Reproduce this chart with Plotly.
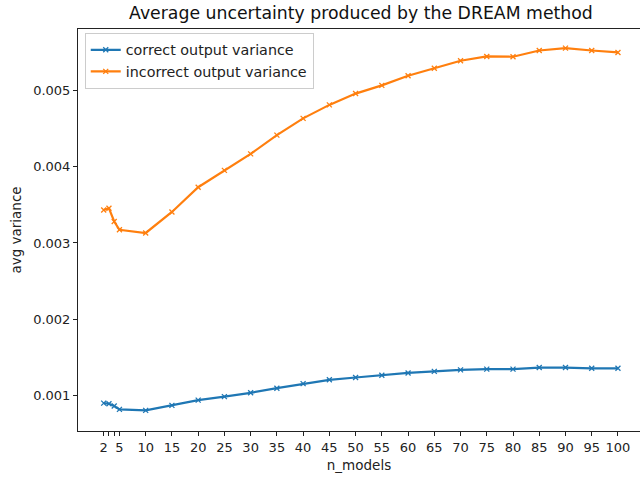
import plotly.graph_objects as go

n_models = [2, 3, 4, 5, 10, 15, 20, 25, 30, 35, 40, 45, 50, 55, 60, 65, 70, 75, 80, 85, 90, 95, 100]
correct_var = [0.000905, 0.000897, 0.000867, 0.000823, 0.00081, 0.000875, 0.000944, 0.00099, 0.00104,
               0.0011, 0.00116, 0.00121, 0.00124, 0.00127, 0.0013, 0.00132, 0.00134, 0.00135,
               0.00135, 0.00137, 0.00137, 0.00136, 0.00136]
incorrect_var = [0.003432, 0.003454, 0.003281, 0.003173, 0.003131, 0.003406, 0.00373, 0.00395, 0.004166,
                 0.004411, 0.004631, 0.004807, 0.004955, 0.005062, 0.005188, 0.005286, 0.005385,
                 0.005441, 0.005437, 0.005519, 0.00555, 0.005519, 0.005493]
xtick_vals = [2, 3, 4, 5, 10, 15, 20, 25, 30, 35, 40, 45, 50, 55, 60, 65, 70, 75, 80, 85, 90, 95, 100]
xtick_text = ["2", "", "", "5", "10", "15", "20", "25", "30", "35", "40", "45", "50", "55", "60",
              "65", "70", "75", "80", "85", "90", "95", "100"]
ytick_vals = [0.001, 0.002, 0.003, 0.004, 0.005]

font = "DejaVu Sans"
fig = go.Figure()
fig.add_trace(go.Scatter(x=n_models, y=correct_var, mode="lines+markers", name="correct output variance",
                         line=dict(color="#1f77b4", width=2.2),
                         marker=dict(symbol="x-thin", size=5, line=dict(color="#1f77b4", width=1.3))))
fig.add_trace(go.Scatter(x=n_models, y=incorrect_var, mode="lines+markers", name="incorrect output variance",
                         line=dict(color="#ff7f0e", width=2.2),
                         marker=dict(symbol="x-thin", size=5, line=dict(color="#ff7f0e", width=1.3))))

fig.update_layout(
    width=640, height=477,
    margin=dict(l=78, r=0, t=29, b=46),
    paper_bgcolor="white", plot_bgcolor="white",
    font=dict(family=font, size=13, color="#222"),
    title=dict(text="Average uncertainty produced by the DREAM method", x=0.564, xanchor="center",
               y=0.973, yanchor="middle", font=dict(size=17.3, color="#111")),
    showlegend=True,
    legend=dict(x=0.012, y=0.99, xanchor="left", yanchor="top", bordercolor="#ccc", borderwidth=1,
                bgcolor="rgba(255,255,255,0.8)", font=dict(size=14.3), tracegroupgap=0,
                itemwidth=30),
)
fig.update_xaxes(range=[-2.9, 104.2], tickmode="array", tickvals=xtick_vals, ticktext=xtick_text,
                 ticks="outside", ticklen=4, tickcolor="#222", showline=True, linecolor="#222",
                 linewidth=1, mirror=True, showgrid=False, zeroline=False, automargin=False,
                 tickfont=dict(size=13),
                 title=dict(text="n_models", font=dict(size=13.5), standoff=6))
fig.update_yaxes(range=[0.00054, 0.0058], tickmode="array", tickvals=ytick_vals, tickformat=".3f",
                 ticks="outside", ticklen=4, tickcolor="#222", showline=True, linecolor="#222",
                 linewidth=1, mirror=False, showgrid=False, zeroline=False, automargin=False,
                 tickfont=dict(size=13),
                 title=dict(text="avg variance", font=dict(size=13.5), standoff=8))
fig.write_html("out.html", config={"displayModeBar": False},
               post_script="document.body.style.margin='0';document.body.style.overflow='hidden';")
